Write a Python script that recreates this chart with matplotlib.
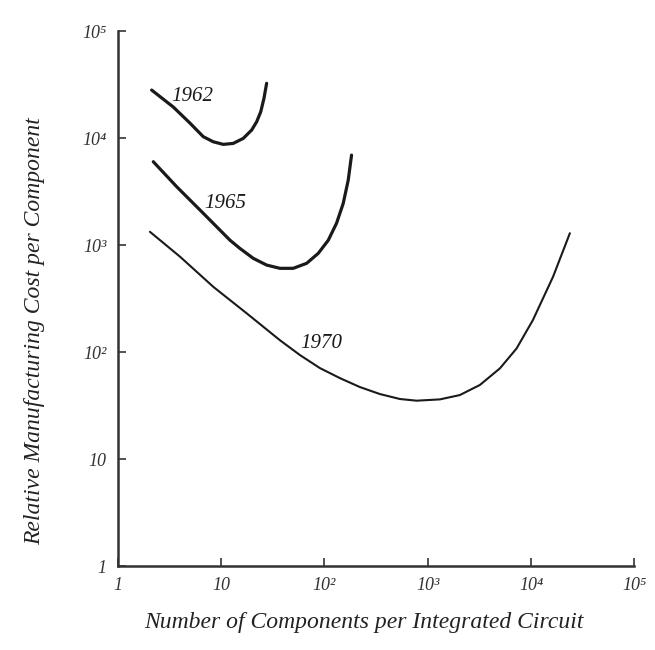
import numpy as np
import matplotlib
matplotlib.use('Agg')
import matplotlib.pyplot as plt

# values (log-log)
x1962 = [2.13, 3.45, 5.00, 6.73, 8.41, 10.5, 13.1, 16.4, 19.8, 22.1, 24.2, 26.0, 27.6]
y1962 = [28100, 19500, 13800, 10300, 9230, 8730, 8910, 9930, 11900, 14200, 17600, 23500, 32500]

x1965 = [2.21, 3.72, 6.73, 12.2, 15.2, 20.5, 27.6, 37.1, 49.9, 67.3, 87.1, 109, 131, 152, 170, 183]
y1965 = [6010, 3510, 1980, 1110, 931, 751, 650, 606, 606, 675, 836, 1110, 1600, 2450, 4050, 6930]

x1970 = [2.05, 4.01, 8.41, 17.7, 37.1, 57.9, 90.4, 141, 220, 344, 537, 779, 1310, 2040,
         3190, 4990, 7230, 10400, 16300, 23700]
y1970 = [1330, 778, 407, 230, 129, 93.8, 70.8, 57.1, 47.1, 40.5, 36.4, 35.1, 36.1, 39.6,
         49.2, 70.4, 108, 199, 506, 1290]

labels = ['1962', '1965', '1970']
label_x = [5.25, 11.1, 92.5]
label_y = [24200, 2470, 119]

xticks = [1, 10, 100, 1000, 10000, 100000]
xticklabels = ['1', '10', '10²', '10³', '10⁴', '10⁵']
yticks = [1, 10, 100, 1000, 10000, 100000]
yticklabels = ['1', '10', '10²', '10³', '10⁴', '10⁵']

plt.rcParams['font.family'] = ['Liberation Serif', 'DejaVu Serif']

fig = plt.figure(figsize=(6.55, 6.5), dpi=100)
ax = fig.add_axes([0.1797, 0.1292, 0.789, 0.823])

ax.plot(x1962, y1962, color='#1a1a1a', lw=2.3, solid_capstyle='round', solid_joinstyle='round')
ax.plot(x1965, y1965, color='#1a1a1a', lw=2.3, solid_capstyle='round', solid_joinstyle='round')
ax.plot(x1970, y1970, color='#1a1a1a', lw=1.5, solid_capstyle='round', solid_joinstyle='round')

for t, lx, ly in zip(labels, label_x, label_y):
    ax.text(lx, ly, t, fontsize=15, style='italic', ha='center', va='center', color='#1a1a1a')

ax.set_xscale('log')
ax.set_yscale('log')
ax.set_xlim(1, 100000)
ax.set_ylim(1, 100000)
ax.set_xticks(xticks)
ax.set_xticklabels(xticklabels, fontsize=13, color='#333333', style='italic')
ax.set_yticks(yticks)
ax.set_yticklabels(yticklabels, fontsize=13, color='#333333', style='italic')
ax.minorticks_off()
ax.tick_params(direction='in', length=6, width=1.2, color='#333333', pad=8)

for s in ['top', 'right']:
    ax.spines[s].set_visible(False)
for s in ['left', 'bottom']:
    ax.spines[s].set_color('#333333')
    ax.spines[s].set_linewidth(1.8)

fig.text(0.555, 0.043, 'Number of Components per Integrated Circuit',
         fontsize=17, style='italic', ha='center', va='center', color='#222222')
fig.text(0.053, 0.49, 'Relative Manufacturing Cost per Component',
         fontsize=17, style='italic', ha='center', va='center', rotation=90, color='#222222')

fig.savefig('out.png', dpi=100, facecolor='white')
